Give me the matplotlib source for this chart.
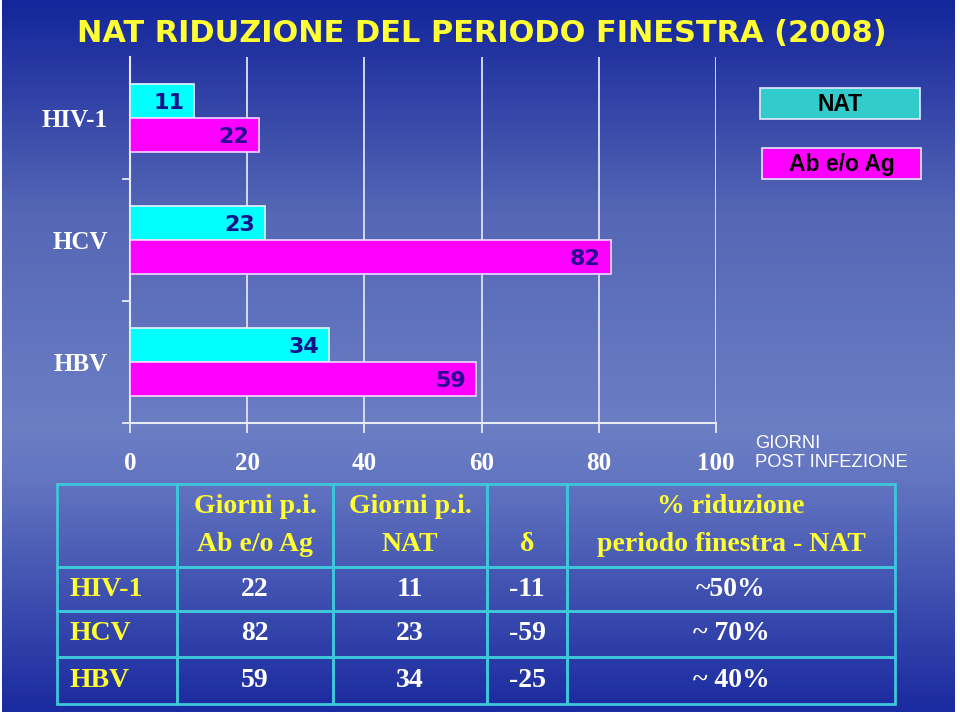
import numpy as np
import matplotlib
matplotlib.use("Agg")
import matplotlib.pyplot as plt
from matplotlib.colors import LinearSegmentedColormap
from matplotlib.patches import Rectangle

# ---------------- data ----------------
title = "NAT RIDUZIONE DEL PERIODO FINESTRA (2008)"
categories = ["HIV-1", "HCV", "HBV"]
nat_days = [11, 23, 34]
ab_days = [22, 82, 59]
series_names = ["NAT", "Ab e/o Ag"]
x_ticks = [0, 20, 40, 60, 80, 100]
x_label = "GIORNI\nPOST INFEZIONE"
header_line1 = ["", "Giorni p.i.", "Giorni p.i.", "", "% riduzione"]
header_line2 = ["", "Ab e/o Ag", "NAT", "δ", "periodo finestra - NAT"]
delta_days = [-11, -59, -25]
reduction = ["~50%", "~ 70%", "~ 40%"]

# ---------------- styles ----------------
bar_colors = ["#00ffff", "#ff00ff"]
legend_colors = ["#33cccc", "#ff00ff"]
label_colors = ["#14148a", "#2a0a90"]
yellow = "#ffff33"
line_cyan = "#3ec6da"

W, H = 960, 716
fig = plt.figure(figsize=(W / 100, H / 100), dpi=100, facecolor="white")


def fx(px):
    return px / W


def fy(py):
    return 1 - py / H


# background gradient
bg = fig.add_axes([fx(2), fy(712), fx(955 - 2), 712 / H], zorder=-10)
cmap = LinearSegmentedColormap.from_list(
    "bg",
    [(0.0, "#13279b"), (0.08, "#2536a2"), (0.30, "#5567b5"),
     (0.60, "#6b7ec4"), (0.68, "#6274c0"), (1.0, "#1a2aa0")])
grad = np.linspace(0, 1, 712).reshape(-1, 1)
bg.imshow(grad, aspect="auto", cmap=cmap, extent=[0, 1, 1, 0])
bg.axis("off")

# ---------------- bar chart ----------------
ax = fig.add_axes([fx(130), fy(423), fx(716 - 130), (423 - 57) / H])
ax.patch.set_alpha(0)
y = np.arange(len(categories))[::-1]
bh = 0.28
off = 0.14
bars_nat = ax.barh(y + off, nat_days, height=bh, color=bar_colors[0],
                   edgecolor="#e6f4ff", linewidth=1.2, zorder=3)
bars_ab = ax.barh(y - off, ab_days, height=bh, color=bar_colors[1],
                  edgecolor="#f4d8ff", linewidth=1.2, zorder=3)

for bars, vals, col in [(bars_nat, nat_days, label_colors[0]),
                        (bars_ab, ab_days, label_colors[1])]:
    for rect, v in zip(bars, vals):
        ax.annotate(str(v),
                    xy=(rect.get_width(), rect.get_y() + rect.get_height() / 2),
                    xytext=(-7, -1.5), textcoords="offset points",
                    ha="right", va="center", color=col, fontsize=16,
                    fontweight="bold", family="DejaVu Sans", zorder=4)

ax.set_xlim(0, 100)
ax.set_ylim(-0.5, len(categories) - 0.5)
for s in ["top", "right"]:
    ax.spines[s].set_visible(False)
for s in ["left", "bottom"]:
    ax.spines[s].set_color("#e8eaf6")
    ax.spines[s].set_linewidth(1.5)
ax.xaxis.grid(True, color="#dfe2f2", linewidth=1.3, zorder=0)
ax.set_axisbelow(True)

ax.set_xticks(x_ticks)
ax.set_xticklabels([str(t) for t in x_ticks])
ax.tick_params(axis="x", direction="out", length=7, width=1.3,
               color="#e8eaf6", pad=14, labelsize=18, labelcolor="white")
ax.set_yticks(y)
ax.set_yticklabels(categories)
ax.set_yticks(np.arange(-0.5, len(categories) - 1, 1.0), minor=True)
ax.tick_params(axis="y", which="major", length=0, pad=16,
               labelsize=18, labelcolor="white")
ax.tick_params(axis="y", which="minor", direction="out", length=6,
               width=1.3, color="#e8eaf6")
for lab in ax.get_xticklabels() + ax.get_yticklabels():
    lab.set_fontfamily("Liberation Serif")
    lab.set_fontweight("bold")

# legend boxes
legend_boxes = [(760, 88, 160, 31), (762, 148, 159, 31)]
for (bx, by, bw, bhp), name, col in zip(legend_boxes, series_names, legend_colors):
    fig.patches.append(Rectangle((fx(bx), fy(by + bhp)), bw / W, bhp / H,
                                 transform=fig.transFigure, facecolor=col,
                                 edgecolor="#e8e8ff", linewidth=1.2))
    fig.text(fx(bx + bw / 2), fy(by + bhp / 2 + 1), name, ha="center",
             va="center", fontsize=16.5, fontweight="bold", color="black",
             family="Liberation Sans")

fig.text(fx(755), fy(453), x_label, ha="left", va="center", fontsize=13.2,
         color="white", family="Liberation Sans", linespacing=1.2)

# title
t = fig.text(fx(482), fy(34), title, ha="center", va="center", color=yellow,
             fontsize=24, fontweight="bold", family="DejaVu Sans")
fig.canvas.draw()
bb = t.get_window_extent()
t.set_fontsize(24 * 811 / bb.width)

# ---------------- table ----------------
tab_ax = fig.add_axes([fx(57), fy(704), fx(895 - 57), (704 - 484) / H])
tab_ax.axis("off")
col_px = [120, 156, 154, 80, 328]
row_px = [83, 44, 46, 47]
cell_text = [[a + "\n" + b for a, b in zip(header_line1, header_line2)]]
for c, a, n, d, r in zip(categories, ab_days, nat_days, delta_days, reduction):
    cell_text.append([c, str(a), str(n), str(d), r])
tbl = tab_ax.table(cellText=cell_text, cellLoc="center",
                   colWidths=[c / sum(col_px) for c in col_px],
                   bbox=[0, 0, 1, 1])
tbl.auto_set_font_size(False)
for (r, c), cell in tbl.get_celld().items():
    cell.set_height(row_px[r] / sum(row_px))
    cell.set_facecolor("none")
    cell.set_edgecolor(line_cyan)
    cell.set_linewidth(2.0)
    txt = cell.get_text()
    txt.set_fontfamily("Liberation Serif")
    txt.set_fontweight("bold")
    txt.set_fontsize(20)
    txt.set_linespacing(1.72)
    txt.set_color(yellow if (r == 0 or c == 0) else "white")
    if c == 0 and r > 0:
        cell._loc = "left"
        txt.set_ha("left")

fig.savefig("out.png", dpi=100, facecolor="white")
